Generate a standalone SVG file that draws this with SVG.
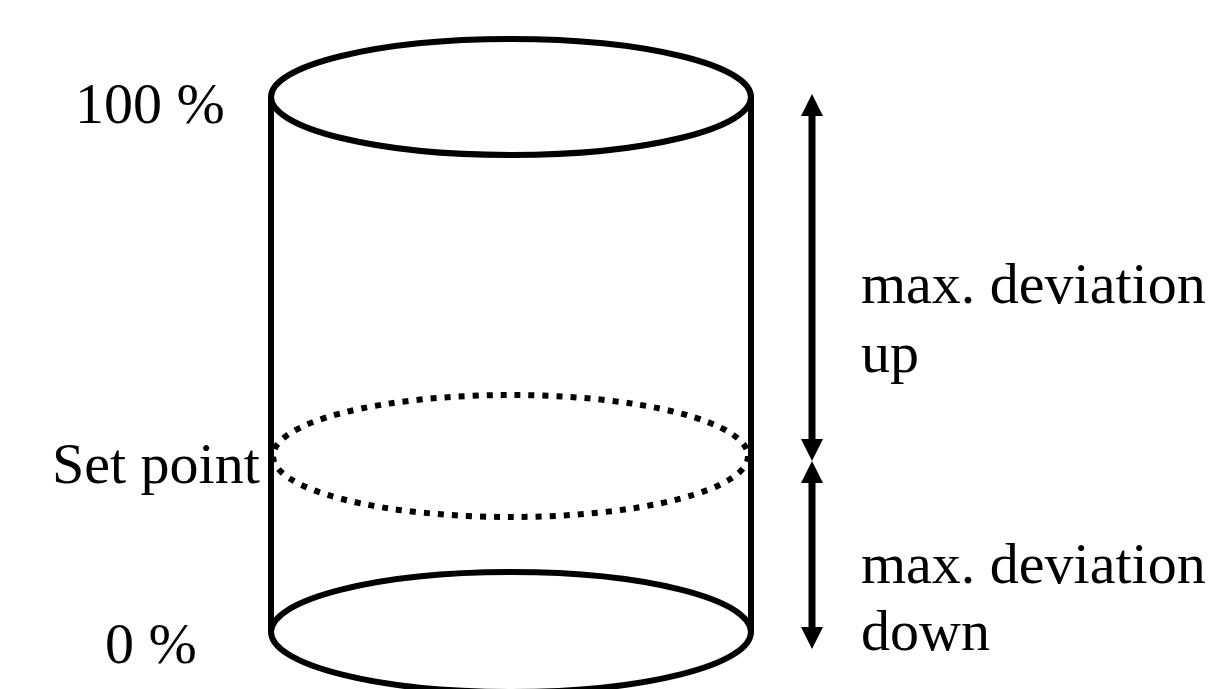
<svg xmlns="http://www.w3.org/2000/svg" width="1219" height="689" viewBox="0 0 1219 689">
<style>
.shape{fill:none;stroke:#000;stroke-width:6}
.dot{fill:none;stroke:#000;stroke-width:6;stroke-dasharray:6 8}
.lbl{font-family:"Liberation Serif",serif;font-size:58px;fill:#000}
.shaft{stroke:#000;stroke-width:7}
.head{fill:#000}
</style>
<rect width="1219" height="689" fill="#fff"/>
<g id="cylinder">
<ellipse class="shape" cx="511" cy="632" rx="240" ry="60"/>
<line class="shape" x1="271" y1="97" x2="271" y2="632"/>
<line class="shape" x1="751" y1="97" x2="751" y2="632"/>
<ellipse class="shape" cx="511" cy="97" rx="240" ry="58"/>
</g>
<g id="setpoint-level">
<ellipse class="dot" cx="510.5" cy="456" rx="237.5" ry="61"/>
</g>
<g id="connectors">
<line class="shaft" x1="812" y1="114" x2="812" y2="441"/>
<polygon class="head" points="812,94 801,116 823,116"/>
<polygon class="head" points="812,461 801,439 823,439"/>
<line class="shaft" x1="812" y1="481" x2="812" y2="629"/>
<polygon class="head" points="812,461 801,483 823,483"/>
<polygon class="head" points="812,649 801,627 823,627"/>
</g>
<g id="labels">
<text class="lbl" x="75" y="123">100 %</text>
<text class="lbl" x="52" y="483">Set point</text>
<text class="lbl" x="105" y="663">0 %</text>
<text class="lbl" x="861" y="303">max. deviation</text>
<text class="lbl" x="861" y="372">up</text>
<text class="lbl" x="861" y="583">max. deviation</text>
<text class="lbl" x="861" y="650">down</text>
</g>
</svg>
